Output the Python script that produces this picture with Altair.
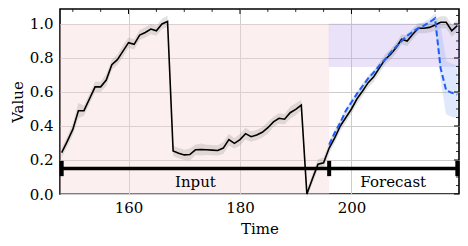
import altair as alt
import pandas as pd

# ---------------- data ----------------
time = list(range(148, 220))
actual = [0.243, 0.31, 0.38, 0.49, 0.49, 0.56, 0.63, 0.63, 0.67, 0.76,
          0.79, 0.84, 0.89, 0.88, 0.935, 0.95, 0.97, 0.96, 1.00, 1.015,
          0.253, 0.24, 0.23, 0.232, 0.26, 0.262, 0.26, 0.258, 0.256, 0.27,
          0.32, 0.298, 0.32, 0.355, 0.337, 0.347, 0.363, 0.39, 0.424, 0.445,
          0.44, 0.478, 0.498, 0.523, 0.0, 0.09, 0.175, 0.184, 0.27, 0.33,
          0.40, 0.45, 0.50, 0.56, 0.606, 0.655, 0.69, 0.74, 0.79, 0.82,
          0.86, 0.91, 0.90, 0.94, 0.975, 0.975, 0.98, 0.994, 1.01, 1.01,
          0.96, 0.99]
spread = [0.03, 0.03, 0.035, 0.045, 0.03, 0.03, 0.03, 0.03, 0.035, 0.03,
          0.03, 0.035, 0.03, 0.03, 0.03, 0.03, 0.03, 0.03, 0.03, 0.035,
          0.03, 0.03, 0.03, 0.035, 0.03, 0.035, 0.03, 0.03, 0.03, 0.035,
          0.035, 0.03, 0.035, 0.035, 0.03, 0.03, 0.03, 0.035, 0.03, 0.03,
          0.03, 0.035, 0.035, 0.03, 0.02, 0.03, 0.03, 0.03, 0.03, 0.03,
          0.03, 0.03, 0.03, 0.03, 0.03, 0.03, 0.03, 0.03, 0.03, 0.03,
          0.03, 0.03, 0.03, 0.03, 0.03, 0.03, 0.03, 0.035, 0.035, 0.035,
          0.035, 0.035]

fc_time = list(range(196, 220))
forecast = [0.29, 0.36, 0.42, 0.49, 0.54, 0.59, 0.635, 0.68, 0.715, 0.755,
            0.79, 0.83, 0.865, 0.90, 0.93, 0.955, 0.975, 0.99, 1.01, 1.033,
            0.74, 0.61, 0.595, 0.585]
fc_lower = [0.275, 0.345, 0.405, 0.475, 0.525, 0.575, 0.62, 0.665, 0.70, 0.74,
            0.775, 0.815, 0.85, 0.885, 0.915, 0.94, 0.96, 0.975, 0.99, 1.005,
            0.68, 0.47, 0.455, 0.45]
fc_upper = [0.305, 0.375, 0.435, 0.505, 0.555, 0.605, 0.65, 0.695, 0.73, 0.77,
            0.805, 0.845, 0.88, 0.915, 0.945, 0.97, 0.99, 1.01, 1.03, 1.06,
            0.98, 0.78, 0.765, 0.755]

segments = ["Input", "Forecast"]
seg_start = [148, 196]
seg_end = [196, 219]
caps = [148, 196, 219]
bar_level = 0.15

x_domain = [147.7, 219.3]
y_domain = [0.0, 1.088]
input_region = [x_domain[0], 196, 0.0, 1.0]
target_region = [196, x_domain[1], 0.75, 1.0]

x_ticks = [160, 180, 200]
y_ticks = [0.0, 0.2, 0.4, 0.6, 0.8, 1.0]
x_minor = [150, 155, 165, 170, 175, 185, 190, 195, 205, 210, 215]
y_minor = [0.05, 0.1, 0.15, 0.25, 0.3, 0.35, 0.45, 0.5, 0.55, 0.65, 0.7, 0.75, 0.85, 0.9, 0.95, 1.05]

# ---------------- tables ----------------
df = pd.DataFrame({"t": time, "v": actual, "s": spread})
df["lo"] = df["v"] - df["s"]
df["hi"] = df["v"] + df["s"]
fc = pd.DataFrame({"t": fc_time, "v": forecast, "lo": fc_lower, "hi": fc_upper})
seg = pd.DataFrame({"name": segments, "a": seg_start, "b": seg_end})
seg["mid"] = (seg["a"] + seg["b"]) / 2
cap_df = pd.DataFrame({"t": caps})
regions = pd.DataFrame({
    "x": [input_region[0], target_region[0]],
    "x2": [input_region[1], target_region[1]],
    "y": [input_region[2], target_region[2]],
    "y2": [input_region[3], target_region[3]],
    "kind": ["input", "target"],
})

W, H = 399, 185
FONT = "DejaVu Serif"
FS = 15

xs = alt.Scale(domain=x_domain, nice=False, zero=False)
ys = alt.Scale(domain=y_domain, nice=False, zero=False)
x_axis = alt.Axis(values=x_ticks, format="d", title="Time", grid=True,
                  domain=False, ticks=False, labelPadding=6, titlePadding=6,
                  labelOverlap=False, labelFont=FONT, titleFont=FONT,
                  labelFontSize=FS, titleFontSize=FS, titleFontWeight="normal")
y_axis = alt.Axis(values=y_ticks, format=".1f", title="Value", grid=True,
                  domain=False, ticks=False, labelPadding=7, titlePadding=4,
                  labelOverlap=False, labelFont=FONT, titleFont=FONT,
                  labelFontSize=FS, titleFontSize=FS, titleFontWeight="normal")


def X(field):
    return alt.X(field, scale=xs, axis=x_axis)


def Y(field):
    return alt.Y(field, scale=ys, axis=y_axis)


input_rect = alt.Chart(regions[regions.kind == "input"]).mark_rect(
    color="#f7d6d6", opacity=0.4).encode(
    x=X("x:Q"), x2="x2", y=Y("y:Q"), y2="y2")
target_rect = alt.Chart(regions[regions.kind == "target"]).mark_rect(
    color="#b9a3ec", opacity=0.3, stroke="#a98ce6", strokeWidth=1, strokeOpacity=0.6).encode(
    x=X("x:Q"), x2="x2", y=Y("y:Q"), y2="y2")

gray_band = alt.Chart(df).mark_area(color="#8c8c8c", opacity=0.25).encode(
    x=X("t:Q"), y=Y("lo:Q"), y2="hi")
blue_band = alt.Chart(fc).mark_area(color="#8fb0f5", opacity=0.28,
                                     stroke="#7fa0f0", strokeWidth=0.6, strokeOpacity=0.5).encode(
    x=X("t:Q"), y=Y("lo:Q"), y2="hi")

black_line = alt.Chart(df).mark_line(color="black", strokeWidth=1.6).encode(
    x=X("t:Q"), y=Y("v:Q"))
blue_line = alt.Chart(fc).mark_line(color="#1f5ef5", strokeWidth=2,
                                    strokeDash=[6, 3]).encode(
    x=X("t:Q"), y=Y("v:Q"))

seg_rule = alt.Chart(seg).mark_rule(color="black", strokeWidth=3.5).encode(
    x=X("a:Q"), x2="b", y=alt.datum(bar_level, scale=ys, axis=y_axis))
cap_rule = alt.Chart(cap_df).mark_rule(color="black", strokeWidth=4).encode(
    x=X("t:Q"), y=alt.datum(0.105, scale=ys, axis=y_axis), y2=alt.datum(0.195))
seg_text = alt.Chart(seg).mark_text(font=FONT, fontSize=FS, color="black",
                                    baseline="middle").encode(
    x=X("mid:Q"), y=alt.datum(0.068, scale=ys, axis=y_axis), text="name:N")

top_major = alt.Chart(pd.DataFrame({"t": x_ticks})).mark_rule(color="black", strokeWidth=1).encode(
    x=X("t:Q"), y=alt.value(0), y2=alt.value(5))
top_minor = alt.Chart(pd.DataFrame({"t": x_minor})).mark_rule(color="black", strokeWidth=0.8).encode(
    x=X("t:Q"), y=alt.value(0), y2=alt.value(3))
right_major = alt.Chart(pd.DataFrame({"v": y_ticks})).mark_rule(color="black", strokeWidth=1).encode(
    y=Y("v:Q"), x=alt.value(W - 5), x2=alt.value(W))
right_minor = alt.Chart(pd.DataFrame({"v": y_minor})).mark_rule(color="black", strokeWidth=0.8).encode(
    y=Y("v:Q"), x=alt.value(W - 3), x2=alt.value(W))

chart = alt.layer(
    input_rect, target_rect, gray_band, blue_band, black_line, blue_line,
    seg_rule, cap_rule, seg_text, top_major, top_minor, right_major, right_minor
).properties(
    width=W, height=H,
    autosize=alt.AutoSizeParams(type="none"),
    padding={"left": 52, "top": 1, "right": 1, "bottom": 44},
).configure_view(
    stroke="black", strokeWidth=1.6
).configure_axis(
    labelColor="black", titleColor="black",
    gridColor="#cccccc", gridWidth=1
)

chart.save("out.html", embed_options={"renderer": "svg", "actions": False})
